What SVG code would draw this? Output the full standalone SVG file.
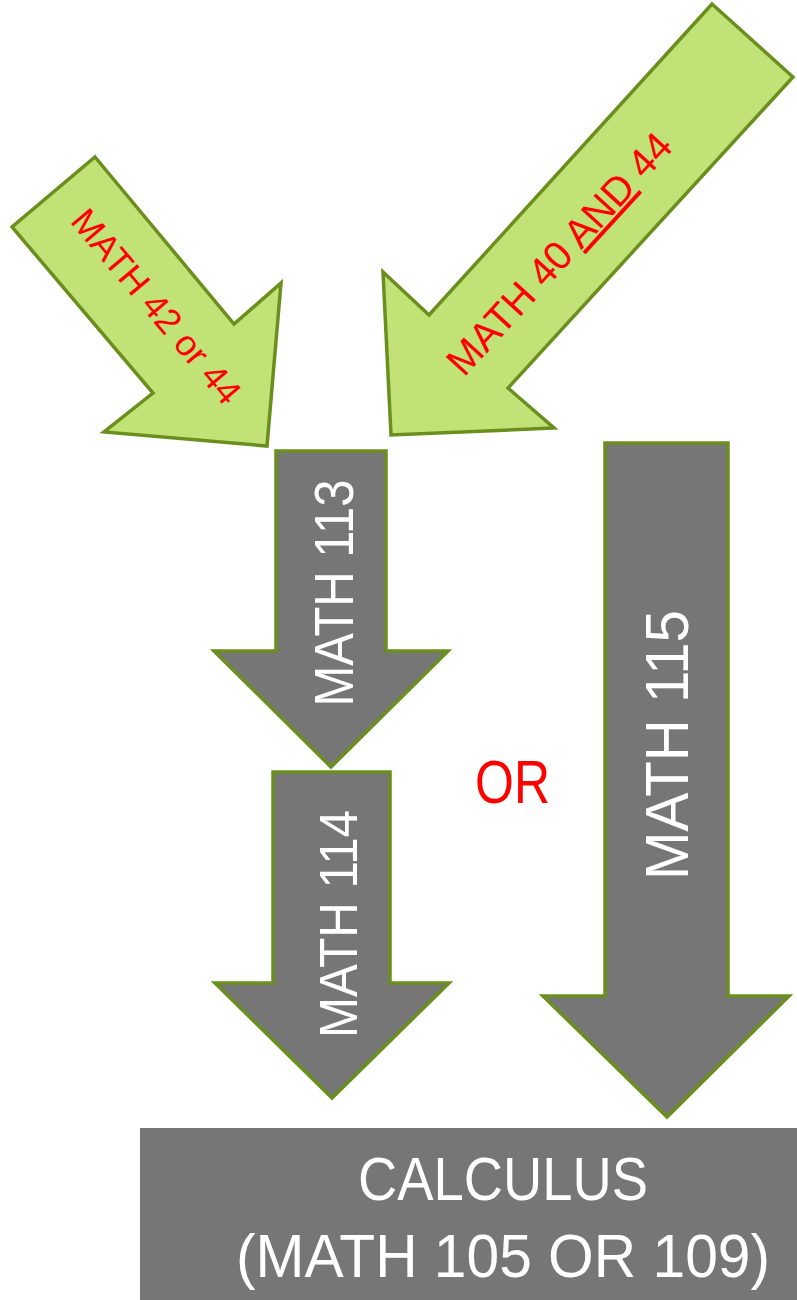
<svg xmlns="http://www.w3.org/2000/svg" width="797" height="1300" viewBox="0 0 797 1300">
<style>
.green{fill:#c1e276;stroke:#6a8f1e;stroke-width:3.5;stroke-linejoin:miter}
.gray{fill:#767676;stroke:#6a8f1e;stroke-width:3.5;stroke-linejoin:miter}
.box{fill:#767676}
.red{fill:#ff0000;font-family:"Liberation Sans",Arial,sans-serif}
.white{fill:#ffffff;font-family:"Liberation Sans",Arial,sans-serif}
</style>
<rect x="0" y="0" width="797" height="1300" fill="#ffffff"/>
<g id="math42or44">
<polygon class="green" points="95,157 234,324 281,283 267,446 104,432 153,393 12,227"/>
<text class="red" font-size="36" text-anchor="middle" textLength="242" lengthAdjust="spacingAndGlyphs" transform="translate(147,314.5) rotate(50)">MATH 42 or 44</text>
</g>
<g id="math40and44">
<polygon class="green" points="712,4 793,77 508,388 554,428 391,435 383,272 429,315"/>
<text class="red" font-size="40" text-anchor="middle" textLength="312" lengthAdjust="spacingAndGlyphs" transform="translate(569.5,263) rotate(-47.5)">MATH 40 <tspan text-decoration="underline">AND</tspan> 44</text>
</g>
<g id="math113">
<polygon class="gray" points="276,451 386,451 386,651 448,651 331,767 214,651 276,651"/>
<text class="white" font-size="56" text-anchor="middle" textLength="227" lengthAdjust="spacingAndGlyphs" transform="translate(353,593) rotate(-90)">MATH 113</text>
</g>
<g id="math114">
<polygon class="gray" points="273,772 390,772 390,983 449,983 332,1098 215,983 273,983"/>
<text class="white" font-size="54" text-anchor="middle" textLength="228" lengthAdjust="spacingAndGlyphs" transform="translate(357,924) rotate(-90)">MATH 114</text>
</g>
<g id="math115">
<polygon class="gray" points="605,443 728,443 728,996 789,996 667,1117 543,996 605,996"/>
<text class="white" font-size="62" text-anchor="middle" textLength="270" lengthAdjust="spacingAndGlyphs" transform="translate(688,745) rotate(-90)">MATH 115</text>
</g>
<g id="or">
<text class="red" x="512.5" y="803" font-size="62" text-anchor="middle" textLength="75" lengthAdjust="spacingAndGlyphs">OR</text>
</g>
<g id="calculus">
<rect class="box" x="140" y="1128" width="657" height="172"/>
<text class="white" x="503" y="1200" font-size="61" text-anchor="middle" textLength="290" lengthAdjust="spacingAndGlyphs">CALCULUS</text>
<text class="white" x="503" y="1277" font-size="61" text-anchor="middle" textLength="534" lengthAdjust="spacingAndGlyphs">(MATH 105 OR 109)</text>
</g>
</svg>
